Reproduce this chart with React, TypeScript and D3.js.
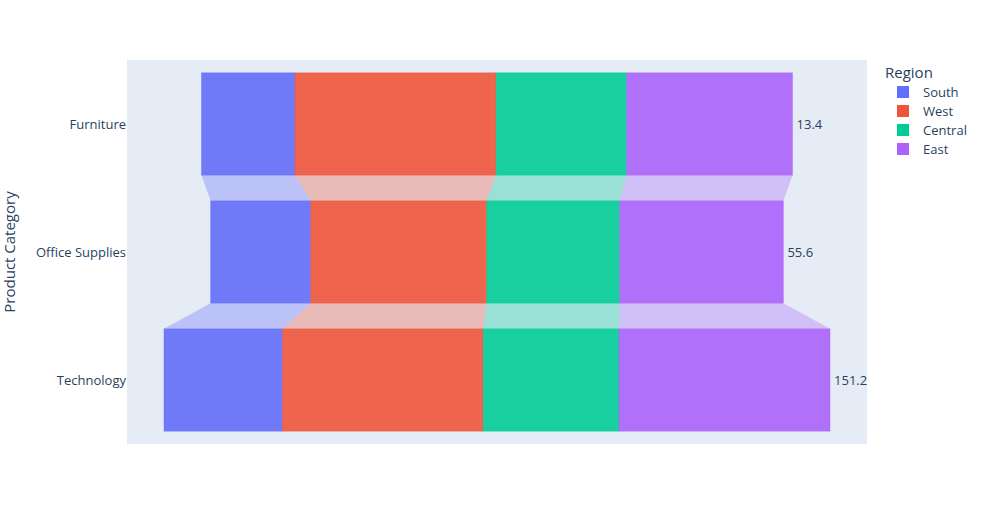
import React from "react";
import * as d3 from "d3";

const categories = ["Furniture", "Office Supplies", "Technology"];
const regions = ["South", "West", "Central", "East"];
const colors = ["#636efa", "#EF553B", "#00cc96", "#ab63fa"];
// sales per category, in region order (South, West, Central, East)
const southSales = [117299, 125651, 148772];
const westSales = [252613, 220853, 251992];
const centralSales = [163797, 167026, 170416];
const eastSales = [208291, 205516, 264974];
const endLabels = ["13.4", "55.6", "151.2"];

const W = 983;
const H = 525;
const M = { l: 127, r: 116, t: 60, b: 81 };
const FONT = '"Open Sans", verdana, arial, sans-serif';

export default function App() {
  const series = [southSales, westSales, centralSales, eastSales];
  const x = d3.scaleLinear().domain([-464500, 464500]).range([M.l, W - M.r]);
  const y = d3
    .scaleBand<string>()
    .domain(categories)
    .range([M.t, H - M.b])
    .paddingInner(0.2)
    .paddingOuter(0.1);

  const segs = categories.map((c, ci) => {
    const total = d3.sum(series, (s) => s[ci]);
    let cum = -total / 2;
    return series.map((s, ri) => {
      const x0 = cum;
      cum += s[ci];
      return { c, ci, ri, x0, x1: cum, total };
    });
  });

  const bw = y.bandwidth();
  return (
    <div style={{ position: "absolute", left: 0, top: 0 }}>
      <svg width={W} height={H} style={{ display: "block", background: "#fff" }}>
        <rect x={M.l} y={M.t} width={W - M.l - M.r} height={H - M.t - M.b} fill="#e5ecf6" />
        {/* connectors */}
        {categories.slice(0, -1).map((c, ci) =>
          regions.map((r, ri) => {
            const a = segs[ci][ri];
            const b = segs[ci + 1][ri];
            const ya = (y(c) as number) + bw;
            const yb = y(categories[ci + 1]) as number;
            const pts = [
              [x(a.x0), ya],
              [x(a.x1), ya],
              [x(b.x1), yb],
              [x(b.x0), yb],
            ];
            return (
              <polygon
                key={`con-${ci}-${ri}`}
                points={pts.map((p) => p.join(",")).join(" ")}
                fill={colors[ri]}
                fillOpacity={0.33}
              />
            );
          })
        )}
        {/* bars */}
        {segs.map((row, ci) =>
          row.map((s) => (
            <rect
              key={`bar-${ci}-${s.ri}`}
              x={x(s.x0)}
              y={y(s.c) as number}
              width={x(s.x1) - x(s.x0)}
              height={bw}
              fill={colors[s.ri]}
              fillOpacity={0.9}
              stroke={colors[s.ri]}
              strokeOpacity={0.4}
              strokeWidth={1}
            />
          ))
        )}
        {/* end labels */}
        {segs.map((row, ci) => (
          <text
            key={`lab-${ci}`}
            x={x(row[3].x1) + 4}
            y={(y(categories[ci]) as number) + bw / 2}
            dy="0.35em"
            fontSize={13}
            fontFamily={FONT}
            fill="#2a3f5f"
          >
            {endLabels[ci]}
          </text>
        ))}
        {/* y ticks */}
        {categories.map((c) => (
          <text
            key={`tick-${c}`}
            x={M.l - 1}
            y={(y(c) as number) + bw / 2}
            dy="0.35em"
            textAnchor="end"
            fontSize={13}
            fontFamily={FONT}
            fill="#2a3f5f"
          >
            {c}
          </text>
        ))}
        <text
          transform={`translate(15,${(M.t + H - M.b) / 2}) rotate(-90)`}
          textAnchor="middle"
          fontSize={15}
          fontFamily={FONT}
          fill="#2a3f5f"
        >
          Product Category
        </text>
        {/* legend */}
        <g fontFamily={FONT} fill="#2a3f5f">
          <text x={885} y={78} fontSize={15}>
            Region
          </text>
          {regions.map((r, i) => (
            <g key={`leg-${r}`} transform={`translate(897,${92 + i * 19})`}>
              <rect x={0} y={-6} width={12} height={12} fill={colors[i]} />
              <text x={26} y={0} dy="0.35em" fontSize={13}>
                {r}
              </text>
            </g>
          ))}
        </g>
      </svg>
    </div>
  );
}
